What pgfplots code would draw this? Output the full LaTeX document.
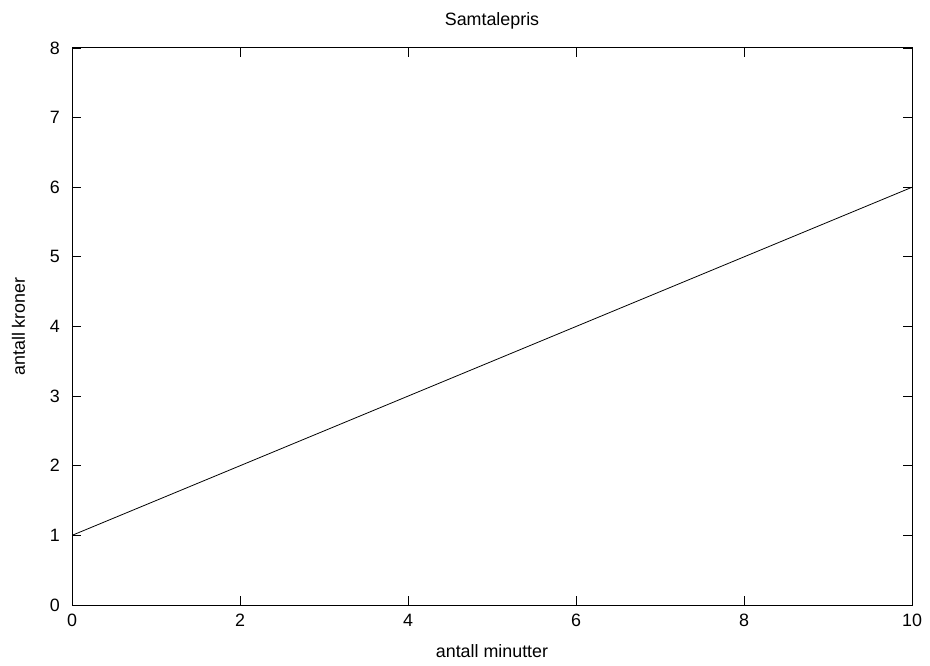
\documentclass[border=0pt]{standalone}
\usepackage{fontspec}
\setmainfont{Liberation Sans}
\usepackage{pgfplots}
\pgfplotsset{compat=1.18}

\begin{document}
\fontsize{13.4pt}{15pt}\selectfont
\begin{tikzpicture}
\begin{axis}[
    scale only axis,
    width=630pt, height=417.75pt,
    xmin=0, xmax=10, ymin=0, ymax=8,
    xtick={0,2,...,10}, ytick={0,1,...,8},
    tick align=inside,
    major tick length=6.75pt,
    tick style={black, line width=0.6pt},
    axis line style={line width=0.75pt},
    /pgf/number format/assume math mode=true,
    xticklabel style={yshift=-2pt},
    yticklabel style={xshift=-4.5pt},
    title={Samtalepris},
    title style={yshift=3.5pt},
    xlabel={antall minutter},
    ylabel={antall kroner},
    xlabel style={yshift=-4.5pt},
    ylabel style={yshift=9.5pt},
]
\addplot[black, line width=0.6pt] coordinates {(0,1) (10,6)};
\end{axis}
\path (current axis.south west) ++(-54pt,-45pt) rectangle ([shift={(13.5pt,36pt)}]current axis.north east);
\end{tikzpicture}
\end{document}
